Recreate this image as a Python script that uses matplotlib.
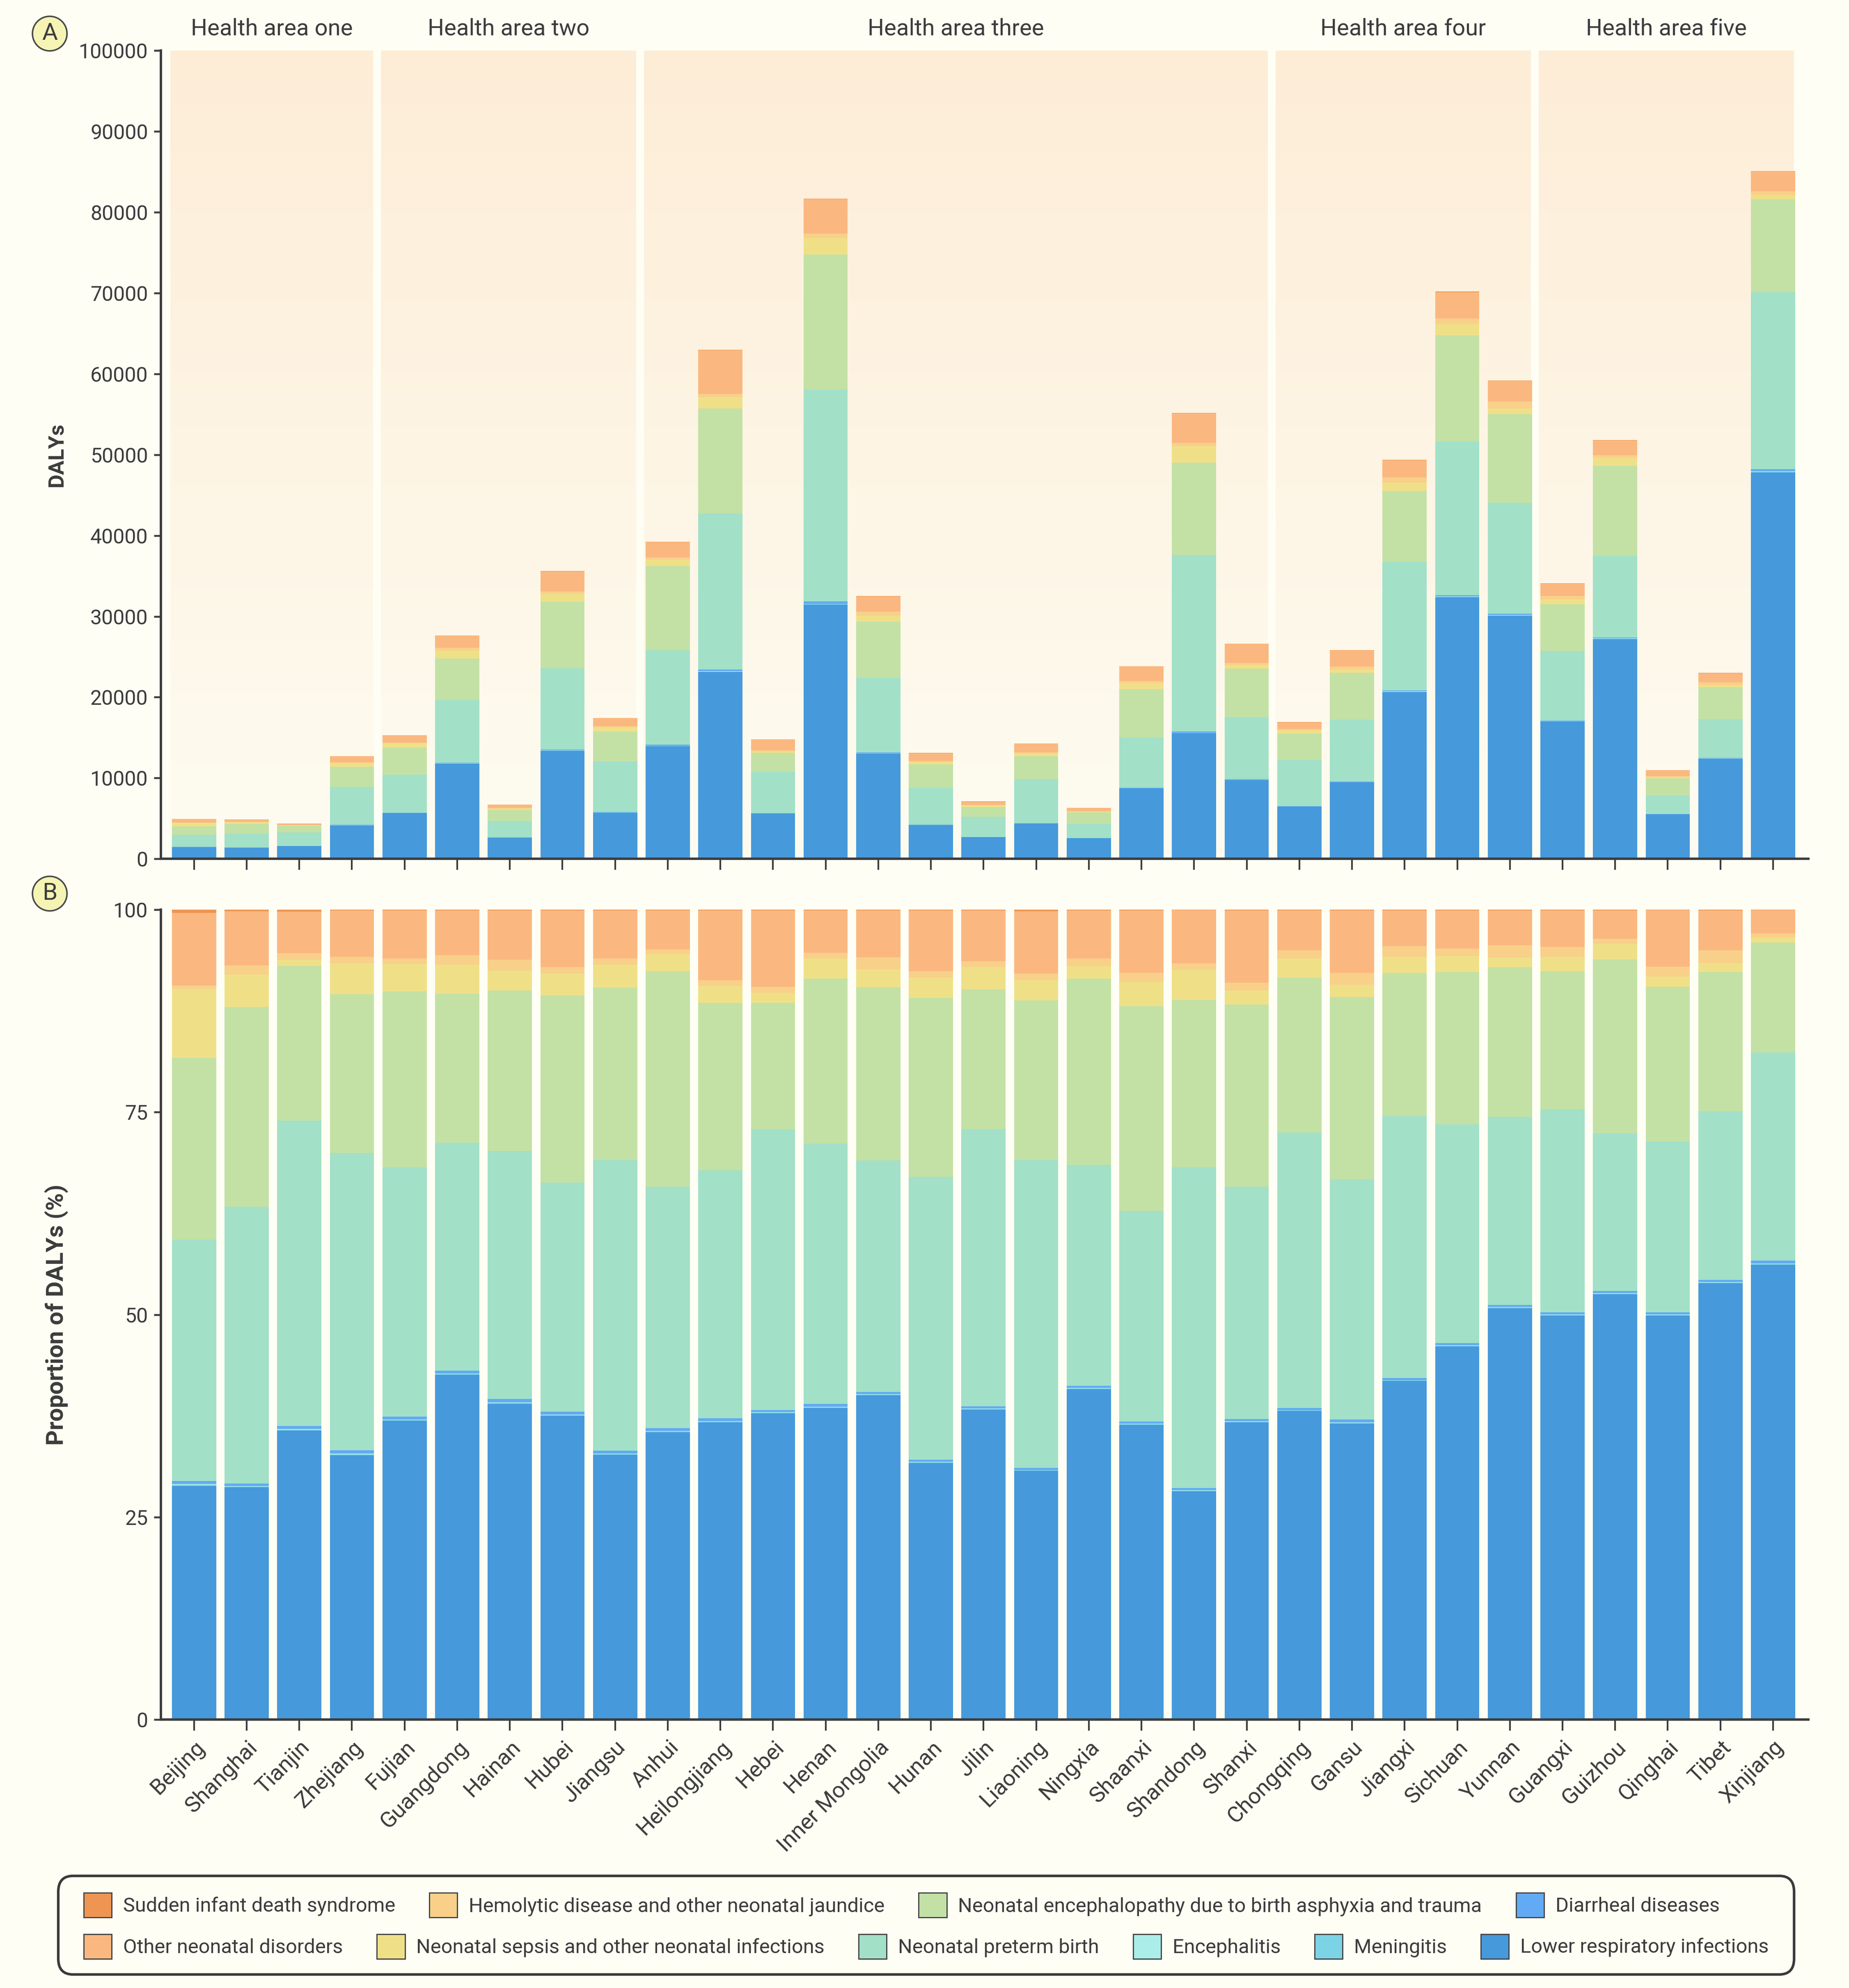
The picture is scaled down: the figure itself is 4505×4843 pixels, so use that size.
import numpy as np
import matplotlib
matplotlib.use("Agg")
import matplotlib.pyplot as plt
from matplotlib.colors import LinearSegmentedColormap
from matplotlib.patches import FancyBboxPatch, Patch

plt.rcParams['font.family'] = ['Roboto', 'DejaVu Sans']

BG = "#FEFEF4"
INK = "#3C3C3C"

PROVINCES = ["Beijing", "Shanghai", "Tianjin", "Zhejiang", "Fujian", "Guangdong", "Hainan",
             "Hubei", "Jiangsu", "Anhui", "Heilongjiang", "Hebei", "Henan", "Inner Mongolia",
             "Hunan", "Jilin", "Liaoning", "Ningxia", "Shaanxi", "Shandong", "Shanxi",
             "Chongqing", "Gansu", "Jiangxi", "Sichuan", "Yunnan", "Guangxi", "Guizhou",
             "Qinghai", "Tibet", "Xinjiang"]
AREAS = ["Health area one", "Health area two", "Health area three", "Health area four", "Health area five"]
AREA_SIZES = [4, 5, 12, 5, 5]

# total DALYs per province (panel A bar heights)
TOTAL_DALYS = [4950, 4900, 4400, 12700, 15300, 27650, 6700, 35600, 17450, 39200, 63000,
               14800, 81700, 32500, 13100, 7100, 14300, 6300, 23850, 55150, 26650,
               16900, 25800, 49400, 70200, 59200, 34100, 51800, 11000, 23000, 85100]

# share of DALYs by cause (%)
LRI = [28.9, 28.7, 35.7, 32.6, 36.9, 42.6, 39.0, 37.5, 32.7, 35.5, 36.7, 37.8, 38.5, 40.1,
       31.7, 38.3, 30.7, 40.8, 36.4, 28.2, 36.7, 38.1, 36.6, 41.8, 46.1, 50.8, 49.9, 52.5,
       49.9, 53.9, 56.2]
MENINGITIS = [0.15, 0.12, 0.12, 0.12, 0.1, 0.1, 0.12, 0.1, 0.1, 0.1, 0.1, 0.1, 0.1, 0.1,
              0.1, 0.1, 0.1, 0.1, 0.1, 0.1, 0.1, 0.1, 0.1, 0.1, 0.1, 0.1, 0.1, 0.1,
              0.1, 0.1, 0.12]
ENCEPHALITIS = [0.08, 0.08, 0.08, 0.08, 0.05, 0.05, 0.05, 0.05, 0.05, 0.05, 0.05, 0.05, 0.05, 0.05,
                0.05, 0.05, 0.05, 0.05, 0.05, 0.05, 0.05, 0.05, 0.05, 0.05, 0.05, 0.05, 0.05, 0.05,
                0.05, 0.05, 0.05]
DIARRHEAL = [0.37, 0.3, 0.35, 0.4, 0.35, 0.35, 0.43, 0.35, 0.35, 0.35, 0.35, 0.25, 0.35, 0.25,
             0.25, 0.25, 0.25, 0.25, 0.25, 0.25, 0.25, 0.25, 0.35, 0.25, 0.25, 0.25, 0.25, 0.25,
             0.25, 0.25, 0.33]
PRETERM = [29.8, 34.2, 37.7, 36.7, 30.8, 28.1, 30.6, 28.3, 35.9, 29.8, 30.6, 34.7, 32.1, 28.6,
           34.9, 34.2, 38.0, 27.3, 26.0, 39.6, 28.7, 34.0, 29.7, 32.3, 27.0, 23.2, 25.1, 19.5,
           21.1, 20.8, 25.7]
ENCEPHALOPATHY = [22.5, 24.7, 19.1, 19.6, 21.7, 18.4, 19.8, 23.1, 21.3, 26.6, 20.7, 15.6, 20.4, 21.4,
                  22.1, 17.3, 19.7, 23.0, 25.3, 20.7, 22.5, 19.1, 22.5, 17.7, 18.8, 18.5, 17.0, 21.5,
                  19.1, 17.2, 13.6]
SEPSIS = [8.5, 4.0, 0.8, 3.8, 3.4, 3.6, 2.5, 2.7, 2.8, 2.1, 2.1, 1.2, 2.5, 2.2,
          2.5, 2.7, 2.5, 1.5, 3.0, 3.7, 1.7, 2.4, 1.5, 2.0, 2.0, 1.2, 1.8, 1.9,
          1.3, 1.1, 0.6]
HEMOLYTIC = [0.4, 1.1, 0.8, 0.8, 0.7, 1.2, 1.3, 0.8, 0.8, 0.6, 0.7, 0.8, 0.7, 1.5,
             0.8, 0.7, 0.8, 1.0, 1.1, 0.8, 1.0, 1.0, 1.5, 1.3, 0.9, 1.5, 1.2, 0.6,
             1.2, 1.6, 0.5]
OTHER = [9.0, 6.7, 5.1, 5.7, 5.9, 5.5, 6.1, 7.0, 5.9, 4.8, 8.6, 9.4, 5.2, 5.8,
         7.5, 6.3, 7.7, 5.9, 7.7, 6.6, 8.9, 4.9, 7.7, 4.4, 4.7, 4.3, 4.5, 3.5,
         7.0, 4.9, 2.9]
SIDS = [0.4, 0.2, 0.26, 0.1, 0.1, 0.1, 0.1, 0.1, 0.1, 0.1, 0.1, 0.1, 0.1, 0.1,
        0.1, 0.1, 0.2, 0.1, 0.1, 0.05, 0.1, 0.1, 0.1, 0.1, 0.1, 0.1, 0.1, 0.1,
        0.05, 0.1, 0.05]

# stacking order, bottom to top
CAUSES = [
    ("Lower respiratory infections", LRI, "#4699DB"),
    ("Meningitis", MENINGITIS, "#7DD3E6"),
    ("Encephalitis", ENCEPHALITIS, "#ABEDE8"),
    ("Diarrheal diseases", DIARRHEAL, "#62AAF4"),
    ("Neonatal preterm birth", PRETERM, "#A2E0C8"),
    ("Neonatal encephalopathy due to birth asphyxia and trauma", ENCEPHALOPATHY, "#C3E1A5"),
    ("Neonatal sepsis and other neonatal infections", SEPSIS, "#EFE088"),
    ("Hemolytic disease and other neonatal jaundice", HEMOLYTIC, "#F8D08A"),
    ("Other neonatal disorders", OTHER, "#FAB880"),
    ("Sudden infant death syndrome", SIDS, "#EE9553"),
]
COLORS = {name: c for name, _, c in CAUSES}
LEGEND_ROW1 = ["Sudden infant death syndrome", "Hemolytic disease and other neonatal jaundice",
               "Neonatal encephalopathy due to birth asphyxia and trauma", "Diarrheal diseases"]
LEGEND_ROW2 = ["Other neonatal disorders", "Neonatal sepsis and other neonatal infections",
               "Neonatal preterm birth", "Encephalitis", "Meningitis", "Lower respiratory infections"]

x = np.arange(len(PROVINCES))
shares = np.array([vals for _, vals, _ in CAUSES], dtype=float)
pct = shares / shares.sum(axis=0) * 100
dalys = pct / 100 * np.array(TOTAL_DALYS, dtype=float)

fig = plt.figure(figsize=(4505 / 300, 4843 / 300), dpi=300)
fig.patch.set_facecolor(BG)
axA = fig.add_axes([0.087, 0.568, 0.891, 0.4065])
axB = fig.add_axes([0.087, 0.135, 0.891, 0.4074])

bar_w = 0.84


def style_axis(ax):
    ax.set_facecolor(BG)
    for s in ["top", "right"]:
        ax.spines[s].set_visible(False)
    for s in ["left", "bottom"]:
        ax.spines[s].set_color(INK)
        ax.spines[s].set_linewidth(1.4)
    ax.tick_params(axis="y", length=4, width=1.1, color=INK, labelcolor=INK, labelsize=12)
    ax.tick_params(axis="x", length=6.5, width=1.0, color=INK, labelcolor=INK, labelsize=13)
    ax.set_xlim(-0.63, 30.67)
    ax.set_xticks(x)


# panel A: gradient panels for health areas
grad_cmap = LinearSegmentedColormap.from_list("grad", ["#FDFCF1", "#FDEDD7"])
grad = np.linspace(0, 1, 256)[:, None]
start = 0
for area, n in zip(AREAS, AREA_SIZES):
    x0, x1 = start - 0.45, start + n - 1 + 0.4
    axA.imshow(grad, extent=[x0, x1, 0, 100000], origin="lower", aspect="auto",
               cmap=grad_cmap, zorder=0, interpolation="bicubic")
    axA.text((x0 + x1) / 2, 102700, area, ha="center", va="center", fontsize=13.5,
             color=INK, clip_on=False)
    start += n

bottom = np.zeros(len(x))
for (name, _, color), vals in zip(CAUSES, dalys):
    axA.bar(x, vals, bar_w, bottom=bottom, color=color, linewidth=0, zorder=2)
    bottom += vals

style_axis(axA)
axA.set_ylim(0, 100000)
axA.set_yticks(np.arange(0, 100001, 10000))
axA.set_xticklabels([])
axA.set_ylabel("DALYs", fontsize=12.5, fontweight="bold", color=INK)
axA.yaxis.set_label_coords(-0.057, 0.5)

# panel B: proportions
bottom = np.zeros(len(x))
for (name, _, color), vals in zip(CAUSES, pct):
    axB.bar(x, vals, bar_w, bottom=bottom, color=color, linewidth=0, zorder=2)
    bottom += vals

style_axis(axB)
axB.set_ylim(0, 100)
axB.set_yticks([0, 25, 50, 75, 100])
axB.set_xticklabels(PROVINCES, rotation=45, ha="right", va="top", rotation_mode="anchor")
axB.set_ylabel("Proportion of DALYs (%)", fontsize=14, fontweight="bold", color=INK)
axB.yaxis.set_label_coords(-0.056, 0.5)

# panel letters
for letter, yy in [("A", 0.9831), ("B", 0.5505)]:
    fig.text(0.0269, yy, letter, ha="center", va="center", fontsize=14, color=INK,
             bbox=dict(boxstyle="circle,pad=0.25", fc="#F6F4B4", ec="#4A4A4A", lw=0.9))

# legend frame and rows
frame = FancyBboxPatch((0.0315, 0.0068), 0.9388, 0.0496, boxstyle="round,pad=0,rounding_size=0.008",
                       transform=fig.transFigure, fc=BG, ec="#3A3A3A", lw=1.5, zorder=1)
fig.patches.append(frame)

for names, yy in [(LEGEND_ROW1, 0.0417), (LEGEND_ROW2, 0.0209)]:
    handles = [Patch(facecolor=COLORS[n], edgecolor="#444444", linewidth=0.7, label=n) for n in names]
    leg = fig.legend(handles=handles, loc="center left", bbox_to_anchor=(0.0453, yy),
                     ncol=len(names), frameon=False, fontsize=11.7, handlelength=1.4,
                     handleheight=1.5, handletextpad=0.57, columnspacing=1.7,
                     borderpad=0, borderaxespad=0)
    for t in leg.get_texts():
        t.set_color(INK)

fig.savefig("out.png", dpi=300, facecolor=BG)
